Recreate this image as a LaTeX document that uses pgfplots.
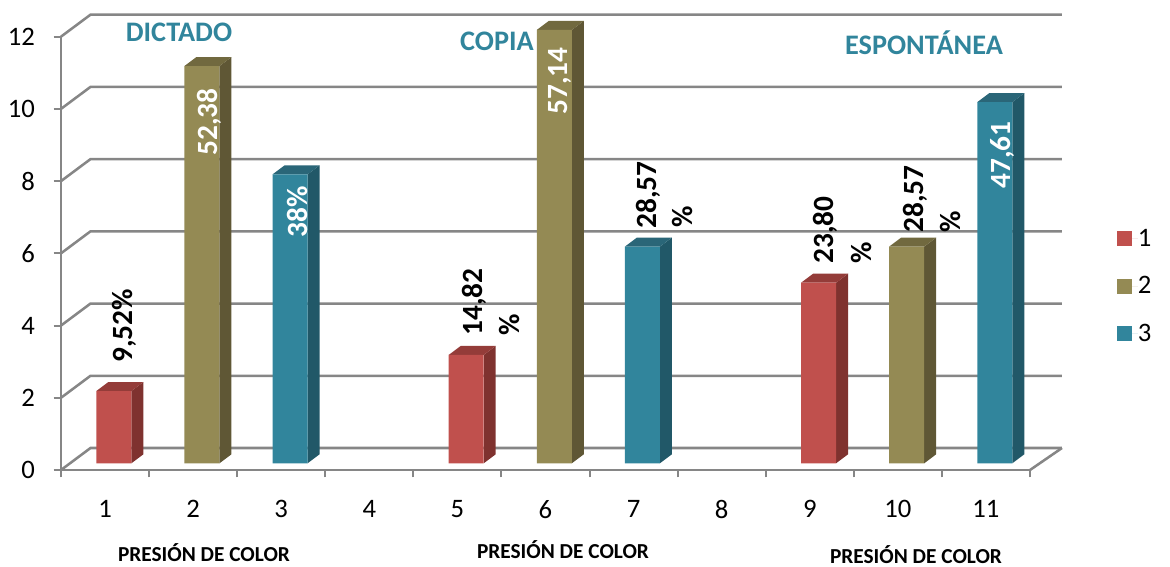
\documentclass[border=0pt]{standalone}
\usepackage{fontspec}
\setmainfont{Carlito}
\usepackage{pgfplots}
\pgfplotsset{compat=1.18}
\usepackage{pgfplotstable}

\definecolor{rojo}{HTML}{C0504D}
\definecolor{rojolado}{HTML}{7F322F}
\definecolor{rojotecho}{HTML}{943C39}
\definecolor{oliva}{HTML}{948A54}
\definecolor{olivalado}{HTML}{5F5735}
\definecolor{olivatecho}{HTML}{71693F}
\definecolor{azul}{HTML}{31859C}
\definecolor{azullado}{HTML}{215868}
\definecolor{azultecho}{HTML}{2A6678}
\definecolor{rejilla}{HTML}{868686}

\pgfplotstableread{
x  y
1  2
5  3
9  5
}\serieuno
\pgfplotstableread{
x  y
2  11
6  12
10 6
}\seriedos
\pgfplotstableread{
x  y
3  8
7  6
11 10
}\serietres

% side and top faces of one bar: x, value, colour name
\newcommand{\caras}[3]{%
  \pgfmathsetmacro\xa{#1-0.199}%
  \pgfmathsetmacro\xb{#1+0.199}%
  \pgfmathsetmacro\xc{#1+0.335}%
  \pgfmathsetmacro\xd{#1-0.063}%
  \pgfmathsetmacro\yb{#2+0.249}%
  \addplot[fill=#3lado,draw=none,forget plot] coordinates {(\xb,0)(\xc,0.249)(\xc,\yb)(\xb,#2)} --cycle;
  \addplot[fill=#3techo,draw=none,forget plot] coordinates {(\xa,#2)(\xb,#2)(\xc,\yb)(\xd,\yb)} --cycle;
}
% one level of the wall: left diagonal and back line
\newcommand{\nivel}[1]{%
  \pgfmathsetmacro\ya{#1-0.186}%
  \pgfmathsetmacro\yb{#1+0.423}%
  \addplot[rejilla,line width=1.9pt,forget plot] coordinates {(0.4,\ya)(0.735,\yb)(11.763,\yb)};
}
\newcommand{\etq}[4]{\node[#3] at (#1,567-#2) {#4};}

\begin{document}
\begin{tikzpicture}[x=0.75pt,y=0.75pt]
\useasboundingbox (0,0) rectangle (1170,567);
\begin{axis}[
    at={(45.75pt,72.75pt)}, anchor=south west,
    scale only axis, width=726.75pt, height=325pt,
    xmin=0.4, xmax=11.4, ymin=-0.186, ymax=11.814,
    clip=false,
    axis x line=bottom, axis y line=left,
    axis line style={-,rejilla,line width=1.9pt},
    tick style={rejilla,line width=1.5pt},
    tick align=outside, major tick length=5.5pt,
    xtick={0.4,1.4,2.4,3.4,4.4,5.4,6.4,7.4,8.4,9.4,10.4,11.4},
    x tick label as interval,
    xticklabels={1,2,3,4,5,6,7,8,9,10,11},
    ytick={-0.186,1.814,3.814,5.814,7.814,9.814,11.814},
    yticklabels={0,2,4,6,8,10,12},
    tick label style={font=\fontsize{20}{20}\selectfont,black},
    xticklabel style={yshift=-13.5pt},
    yticklabel style={xshift=-10.5pt},
    legend style={at={(1.0898,0.556)},anchor=north west,draw=none,fill=none,
        font=\fontsize{20}{20}\selectfont,row sep=21pt,inner sep=0pt,
        nodes={inner sep=0pt,anchor=west}},
    legend cell align=left,
    cuadro/.style={legend image code/.code={\fill[##1] (0pt,-5.6pt) rectangle (11.25pt,5.6pt);\path (0pt,0pt) -- (15.5pt,0pt);}},
]
\nivel{0}\nivel{2}\nivel{4}\nivel{6}\nivel{8}\nivel{10}\nivel{12}
\addplot[rejilla,line width=1.9pt,forget plot] coordinates {(11.4,-0.186)(11.763,0.423)};

\caras{1}{2}{rojo}\caras{5}{3}{rojo}\caras{9}{5}{rojo}
\caras{2}{11}{oliva}\caras{6}{12}{oliva}\caras{10}{6}{oliva}
\caras{3}{8}{azul}\caras{7}{6}{azul}\caras{11}{10}{azul}

\addplot[ybar,bar width=26.25pt,bar shift=0pt,fill=rojo,draw=none,cuadro] table {\serieuno};
\addplot[ybar,bar width=26.25pt,bar shift=0pt,fill=oliva,draw=none,cuadro] table {\seriedos};
\addplot[ybar,bar width=26.25pt,bar shift=0pt,fill=azul,draw=none,cuadro] table {\serietres};
\legend{1,2,3}
\end{axis}

% titles
\etq{179}{32}{font=\fontsize{21.2}{22}\selectfont\bfseries,text=azul}{DICTADO}
\etq{497}{41}{font=\fontsize{21.2}{22}\selectfont\bfseries,text=azul}{COPIA}
\etq{924}{43}{font=\fontsize{21.2}{22}\selectfont\bfseries,text=azul}{ESPONTÁNEA}
\etq{204}{553}{inner sep=0pt,font=\fontsize{16}{16}\selectfont\bfseries}{PRESIÓN DE COLOR}
\etq{563}{550}{inner sep=0pt,font=\fontsize{16}{16}\selectfont\bfseries}{PRESIÓN DE COLOR}
\etq{916}{555}{inner sep=0pt,font=\fontsize{16}{16}\selectfont\bfseries}{PRESIÓN DE COLOR}

% bar labels
\tikzset{neg/.style={rotate=90,font=\fontsize{22}{22}\selectfont\bfseries},
         bla/.style={neg,text=white}}
\etq{124}{326}{neg}{9,52\%}
\etq{209}{122}{bla}{52,38}
\etq{297}{212}{bla}{38\%}
\etq{474}{302}{neg}{14,82}
\etq{510}{325}{neg}{\%}
\etq{560}{81}{bla}{57,14}
\etq{648}{195}{neg}{28,57}
\etq{683}{217}{neg}{\%}
\etq{825}{230}{neg}{23,80}
\etq{861}{253}{neg}{\%}
\etq{915}{199}{neg}{28,57}
\etq{950}{222}{neg}{\%}
\etq{1002}{155}{bla}{47,61}
\end{tikzpicture}
\end{document}
